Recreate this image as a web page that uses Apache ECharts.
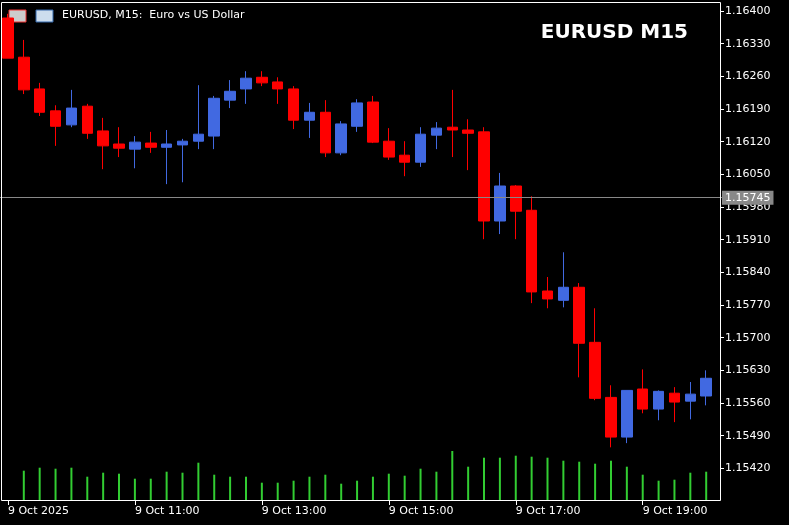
<!DOCTYPE html>
<html lang="en">
<head>
  <meta charset="UTF-8">
  <script src="https://cdn.jsdelivr.net/npm/echarts/dist/echarts.min.js"></script>
  <style>
    html, body { margin: 0; padding: 0; background: #000; }
    #chart { width: 789px; height: 525px; }
  </style>
</head>
<body>
  <div id="chart"></div>
  <script>
    // 15-minute bars, 9 Oct 2025 from 09:00
    const times = ['09:00','09:15','09:30','09:45','10:00','10:15','10:30','10:45',
      '11:00','11:15','11:30','11:45','12:00','12:15','12:30','12:45',
      '13:00','13:15','13:30','13:45','14:00','14:15','14:30','14:45',
      '15:00','15:15','15:30','15:45','16:00','16:15','16:30','16:45',
      '17:00','17:15','17:30','17:45','18:00','18:15','18:30','18:45',
      '19:00','19:15','19:30','19:45','20:00',''];
    const opens  = [1.16385,1.16301,1.16233,1.16186,1.16156,1.16196,1.16143,1.16115,1.16104,1.16117,
      1.16108,1.16113,1.16121,1.16132,1.16209,1.16233,1.16258,1.16248,1.16233,1.16166,
      1.16183,1.16096,1.16153,1.16205,1.16121,1.16091,1.16076,1.16134,1.16151,1.16145,
      1.16141,1.15950,1.16025,1.15973,1.15800,1.15780,1.15808,1.15690,1.15572,1.15487,
      1.15590,1.15547,1.15581,1.15564,1.15575];
    const closes = [1.16299,1.16231,1.16183,1.16153,1.16192,1.16138,1.16111,1.16106,1.16119,1.16108,
      1.16115,1.16121,1.16136,1.16213,1.16228,1.16256,1.16246,1.16233,1.16166,1.16183,
      1.16096,1.16158,1.16203,1.16119,1.16087,1.16076,1.16136,1.16149,1.16145,1.16138,
      1.15950,1.16025,1.15971,1.15798,1.15783,1.15808,1.15688,1.15570,1.15487,1.15587,
      1.15547,1.15585,1.15562,1.15579,1.15613];
    const lows   = [1.16299,1.16222,1.16175,1.16111,1.16151,1.16126,1.16061,1.16087,1.16063,1.16096,
      1.16029,1.16033,1.16104,1.16104,1.16192,1.16201,1.16239,1.16201,1.16147,1.16128,
      1.16087,1.16091,1.16141,1.16117,1.16081,1.16046,1.16066,1.16104,1.16087,1.16059,
      1.15911,1.15922,1.15911,1.15774,1.15763,1.15765,1.15615,1.15566,1.15465,1.15474,
      1.15538,1.15523,1.15519,1.15525,1.15555];
    const highs  = [1.16394,1.16338,1.16246,1.16198,1.16231,1.16201,1.16171,1.16151,1.16132,1.16141,
      1.16145,1.16126,1.16241,1.16218,1.16252,1.16271,1.16271,1.16258,1.16239,1.16203,
      1.16209,1.16164,1.16211,1.16218,1.16149,1.16121,1.16151,1.16162,1.16231,1.16168,
      1.16151,1.16053,1.16027,1.16003,1.15830,1.15883,1.15817,1.15763,1.15598,1.15587,
      1.15632,1.15587,1.15594,1.15605,1.15630];
    const volumes = [null,303,333,323,333,243,283,273,223,223,293,283,383,263,243,243,183,183,203,243,
      263,173,203,243,273,253,323,293,503,343,433,433,453,443,433,403,393,373,403,343,
      263,203,213,283,293];
    const yTicks = { min: 1.1535, max: 1.16415, step: 0.0007 };
    const lastPrice = 1.15745;

    const candles = opens.map((o, i) => [o, closes[i], lows[i], highs[i]]);
    const font = 'DejaVu Sans';
    const showTick = i => i % 8 === 0 && i < 45;

    const chart = echarts.init(document.getElementById('chart'));
    chart.setOption({
      backgroundColor: '#000',
      animation: false,
      graphic: [
        { type: 'rect', shape: { x: 1.5, y: 2.5, width: 719, height: 498 },
          style: { fill: 'none', stroke: '#fff', lineWidth: 1 }, z: 10 },
        { type: 'text', left: 62, top: 10,
          style: { text: 'EURUSD, M15:  Euro vs US Dollar', fill: '#fff', font: '11px ' + font } },
        { type: 'text', right: 101, top: 23,
          style: { text: 'EURUSD M15', fill: '#fff', font: '600 20px ' + font } },
        { type: 'rect', shape: { x: 9, y: 10, width: 17, height: 12 },
          style: { fill: '#ccc', stroke: '#e33', lineWidth: 1 } },
        { type: 'rect', shape: { x: 36, y: 10, width: 17, height: 12 },
          style: { fill: '#cde', stroke: '#36a', lineWidth: 1 } }
      ],
      grid: [
        { left: -6, right: 59, top: 4, bottom: 24 },
        { left: -6, right: 59, bottom: 24, height: 50 }
      ],
      xAxis: [
        { type: 'category', data: times, gridIndex: 0, boundaryGap: true,
          axisLine: { show: false },
          axisTick: { show: true, alignWithLabel: true, interval: showTick, length: 4,
            lineStyle: { color: '#fff' } },
          axisLabel: { interval: showTick, align: 'left', color: '#fff', fontFamily: font,
            fontSize: 11, margin: 5,
            formatter: (v, i) => i === 0 ? '9 Oct 2025' : '9 Oct ' + v },
          splitLine: { show: false } },
        { type: 'category', data: times, gridIndex: 1, show: false }
      ],
      yAxis: [
        { type: 'value', gridIndex: 0, position: 'right', offset: -10,
          min: yTicks.min, max: yTicks.max, interval: yTicks.step,
          axisLine: { show: false },
          axisTick: { show: true, length: 4, lineStyle: { color: '#fff' } },
          axisLabel: { color: '#fff', fontFamily: font, fontSize: 11, margin: 5,
            showMinLabel: false, showMaxLabel: false,
            formatter: v => v.toFixed(5) },
          splitLine: { show: false } },
        { type: 'value', gridIndex: 1, min: 0, max: 500, show: false }
      ],
      series: [
        { type: 'candlestick', data: candles, xAxisIndex: 0, yAxisIndex: 0, barWidth: 11,
          itemStyle: { color: '#4169E1', color0: '#FF0000',
            borderColor: '#4169E1', borderColor0: '#FF0000', borderWidth: 1 } },
        { type: 'line', data: [], xAxisIndex: 0, yAxisIndex: 0,
          markLine: { symbol: 'none', silent: true, animation: false,
            lineStyle: { color: '#888', type: 'solid', width: 1 },
            label: { position: 'end', distance: -8, formatter: lastPrice.toFixed(5),
              color: '#fff', backgroundColor: '#888', fontFamily: font, fontSize: 11,
              padding: [2, 3, 1, 3] },
            data: [{ yAxis: lastPrice }] } },
        { type: 'bar', data: volumes, xAxisIndex: 1, yAxisIndex: 1, barWidth: 2,
          itemStyle: { color: '#32CD32' } }
      ]
    });
  </script>
</body>
</html>
